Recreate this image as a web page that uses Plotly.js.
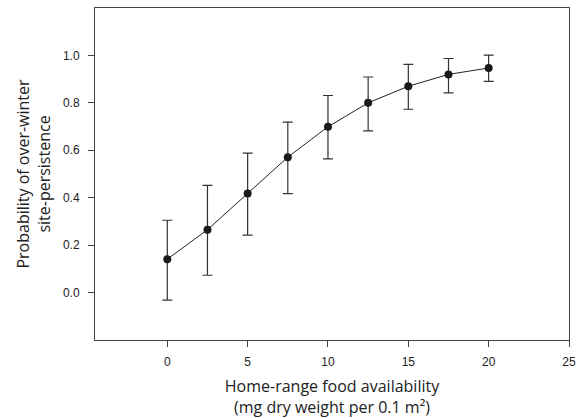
<!DOCTYPE html>
<html>
<head>
<meta charset="utf-8">
<script src="https://cdn.plot.ly/plotly-3.0.1.min.js"></script>
<style>html,body{margin:0;padding:0;background:#fff;}#chart{width:584px;height:418px;}</style>
</head>
<body>
<div id="chart"></div>
<script>
const foodAvailability = [0, 2.5, 5, 7.5, 10, 12.5, 15, 17.5, 20];
const probability = [0.141, 0.265, 0.418, 0.571, 0.699, 0.800, 0.870, 0.920, 0.947];
const upperCI = [0.305, 0.452, 0.588, 0.719, 0.831, 0.909, 0.962, 0.987, 1.001];
const lowerCI = [-0.032, 0.073, 0.242, 0.417, 0.564, 0.682, 0.773, 0.842, 0.891];
const xTicks = [0, 5, 10, 15, 20, 25];
const yTicks = [0.0, 0.2, 0.4, 0.6, 0.8, 1.0];

const errPlus = upperCI.map((u, i) => u - probability[i]);
const errMinus = lowerCI.map((l, i) => probability[i] - l);

const trace = {
  x: foodAvailability,
  y: probability,
  type: 'scatter',
  mode: 'lines+markers',
  line: {color: '#222', width: 1},
  marker: {color: '#1a1a1a', size: 8},
  error_y: {
    type: 'data', symmetric: false,
    array: errPlus, arrayminus: errMinus,
    color: '#333', thickness: 1.2, width: 5
  },
  showlegend: false
};

const layout = {
  width: 584, height: 418,
  margin: {l: 95, r: 15, t: 8, b: 78},
  paper_bgcolor: '#fff', plot_bgcolor: '#fff',
  xaxis: {
    range: [-4.5, 25],
    tickvals: xTicks,
    ticktext: xTicks.map(String),
    ticks: 'outside', ticklen: 6, tickcolor: '#444', tickwidth: 1,
    showline: true, linecolor: '#444', linewidth: 1, mirror: true,
    showgrid: false, zeroline: false,
    tickfont: {family: 'Liberation Sans, Arial, sans-serif', size: 12, color: '#222'},
    ticklabelstandoff: 5,
    title: {text: 'Home-range food availability<br>(mg dry weight per 0.1 m²)',
            font: {family: 'Open Sans, sans-serif', size: 16, color: '#222'}, standoff: 17}
  },
  yaxis: {
    range: [-0.2, 1.2],
    tickvals: yTicks,
    ticktext: yTicks.map(v => v.toFixed(1)),
    ticks: 'outside', ticklen: 6, tickcolor: '#444', tickwidth: 1,
    showline: true, linecolor: '#444', linewidth: 1, mirror: true,
    showgrid: false, zeroline: false,
    tickfont: {family: 'Liberation Sans, Arial, sans-serif', size: 12, color: '#222'},
    ticklabelstandoff: 6,
    title: {text: 'Probability of over-winter<br>site-persistence',
            font: {family: 'Open Sans, sans-serif', size: 16, color: '#222'}, standoff: 8}
  }
};

Plotly.newPlot('chart', [trace], layout, {staticPlot: true, displayModeBar: false});
</script>
</body>
</html>
